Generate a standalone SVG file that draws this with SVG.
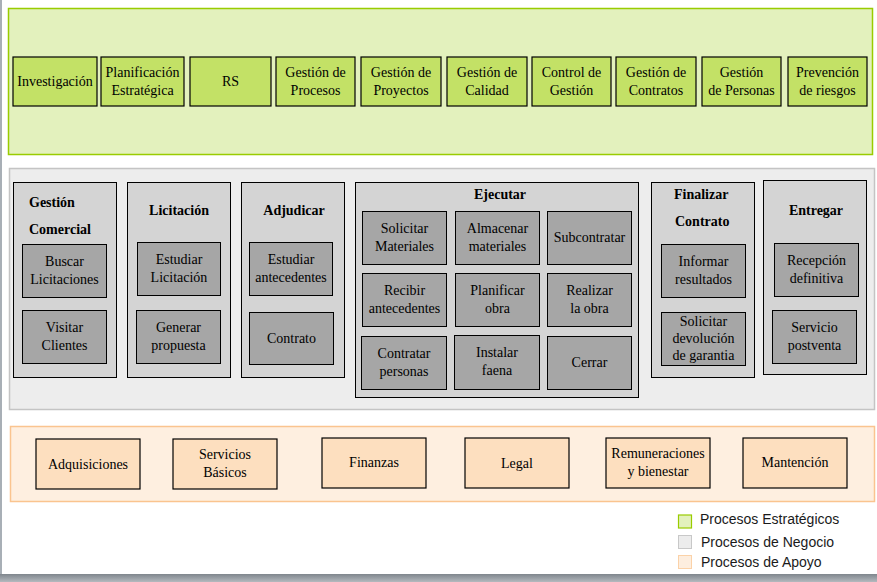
<svg xmlns="http://www.w3.org/2000/svg" width="877" height="582" viewBox="0 0 877 582">
<defs>
<linearGradient id="shadow" x1="0" y1="0" x2="0" y2="1">
<stop offset="0" stop-color="#7f868d"/>
<stop offset="1" stop-color="#b4b9be"/>
</linearGradient>
</defs>
<style>
text{font-family:'Liberation Serif','DejaVu Serif',serif}
.t{font-family:'Liberation Serif','DejaVu Serif',serif;font-size:14px;fill:#000;text-anchor:middle}
.b{font-weight:bold}
.l{text-anchor:start}
.lg{font-family:'Liberation Sans',Arial,sans-serif;font-size:14px;fill:#1a1a1a}
.sp{fill:#e3f1bd;stroke:#99cc00;stroke-width:1.5}
.sb{fill:#c3e166;stroke:#000;stroke-width:1.2}
.np{fill:#ededed;stroke:#c4c4c4;stroke-width:1.5}
.nc{fill:#d4d4d4;stroke:#000;stroke-width:1}
.nb{fill:#a6a6a6;stroke:#000;stroke-width:1}
.ap{fill:#feefe0;stroke:#fac48f;stroke-width:1.5}
.ab{fill:#fddfbf;stroke:#000;stroke-width:1.2}
</style>
<rect x="0" y="0" width="877" height="582" fill="#ffffff"/>
<rect x="0" y="0" width="2" height="576" fill="#a8afb6"/>
<rect x="0" y="574" width="877" height="8" fill="url(#shadow)"/>

<g id="estrategicos" font-family="Liberation Serif">
<rect class="sp" x="8.5" y="8.5" width="864" height="146"/>
<g id="investigacion"><rect class="sb" x="13" y="57" width="84" height="49"/><text class="t" x="55" y="86">Investigación</text></g>
<g id="planificacion"><rect class="sb" x="101" y="57" width="83" height="49"/><text class="t" x="142.5" y="77">Planificación</text><text class="t" x="142.5" y="95">Estratégica</text></g>
<g id="rs"><rect class="sb" x="190" y="57" width="81" height="49"/><text class="t" x="230.5" y="86">RS</text></g>
<g id="gestion-procesos"><rect class="sb" x="276" y="57" width="79" height="49"/><text class="t" x="315.5" y="77">Gestión de</text><text class="t" x="315.5" y="95">Procesos</text></g>
<g id="gestion-proyectos"><rect class="sb" x="361" y="57" width="80" height="49"/><text class="t" x="401" y="77">Gestión de</text><text class="t" x="401" y="95">Proyectos</text></g>
<g id="gestion-calidad"><rect class="sb" x="447" y="57" width="80" height="49"/><text class="t" x="487" y="77">Gestión de</text><text class="t" x="487" y="95">Calidad</text></g>
<g id="control-gestion"><rect class="sb" x="532" y="57" width="79" height="49"/><text class="t" x="571.5" y="77">Control de</text><text class="t" x="571.5" y="95">Gestión</text></g>
<g id="gestion-contratos"><rect class="sb" x="616" y="57" width="80" height="49"/><text class="t" x="656" y="77">Gestión de</text><text class="t" x="656" y="95">Contratos</text></g>
<g id="gestion-personas"><rect class="sb" x="702" y="57" width="79" height="49"/><text class="t" x="741.5" y="77">Gestión</text><text class="t" x="741.5" y="95">de Personas</text></g>
<g id="prevencion-riesgos"><rect class="sb" x="788" y="57" width="79" height="49"/><text class="t" x="827.5" y="77">Prevención</text><text class="t" x="827.5" y="95">de riesgos</text></g>
</g>

<g id="negocio">
<rect class="np" x="9.5" y="168.5" width="865" height="241"/>
<g id="gestion-comercial">
<rect class="nc" x="13.5" y="182.5" width="103" height="195"/>
<text class="t b l" x="29" y="207">Gestión</text><text class="t b l" x="29" y="234">Comercial</text>
<g id="buscar-licitaciones"><rect class="nb" x="22.5" y="244.5" width="84" height="53"/><text class="t" x="64.5" y="266">Buscar</text><text class="t" x="64.5" y="284">Licitaciones</text></g>
<g id="visitar-clientes"><rect class="nb" x="22.5" y="310.5" width="84" height="53"/><text class="t" x="64.5" y="332">Visitar</text><text class="t" x="64.5" y="350">Clientes</text></g>
</g>
<g id="licitacion">
<rect class="nc" x="127.5" y="182.5" width="103" height="195"/>
<text class="t b" x="179" y="215">Licitación</text>
<g id="estudiar-licitacion"><rect class="nb" x="137.5" y="242.5" width="83" height="53"/><text class="t" x="179" y="264">Estudiar</text><text class="t" x="179" y="282">Licitación</text></g>
<g id="generar-propuesta"><rect class="nb" x="136.5" y="310.5" width="84" height="53"/><text class="t" x="178.5" y="332">Generar</text><text class="t" x="178.5" y="350">propuesta</text></g>
</g>
<g id="adjudicar">
<rect class="nc" x="241.5" y="182.5" width="103" height="195"/>
<text class="t b" x="294" y="215">Adjudicar</text>
<g id="estudiar-antecedentes"><rect class="nb" x="249.5" y="242.5" width="83" height="53"/><text class="t" x="291" y="264">Estudiar</text><text class="t" x="291" y="282">antecedentes</text></g>
<g id="contrato"><rect class="nb" x="249.5" y="312.5" width="84" height="52"/><text class="t" x="291.5" y="343">Contrato</text></g>
</g>
<g id="ejecutar">
<rect class="nc" x="355.5" y="182.5" width="283" height="215"/>
<text class="t b" x="500" y="199">Ejecutar</text>
<g id="solicitar-materiales"><rect class="nb" x="362.5" y="211.5" width="84" height="53"/><text class="t" x="404.5" y="233">Solicitar</text><text class="t" x="404.5" y="251">Materiales</text></g>
<g id="almacenar-materiales"><rect class="nb" x="455.5" y="211.5" width="84" height="53"/><text class="t" x="497.5" y="233">Almacenar</text><text class="t" x="497.5" y="251">materiales</text></g>
<g id="subcontratar"><rect class="nb" x="547.5" y="211.5" width="84" height="53"/><text class="t" x="589.5" y="242">Subcontratar</text></g>
<g id="recibir-antecedentes"><rect class="nb" x="362.5" y="273.5" width="84" height="53"/><text class="t" x="404.5" y="295">Recibir</text><text class="t" x="404.5" y="313">antecedentes</text></g>
<g id="planificar-obra"><rect class="nb" x="455.5" y="273.5" width="84" height="53"/><text class="t" x="497.5" y="295">Planificar</text><text class="t" x="497.5" y="313">obra</text></g>
<g id="realizar-obra"><rect class="nb" x="547.5" y="273.5" width="84" height="53"/><text class="t" x="589.5" y="295">Realizar</text><text class="t" x="589.5" y="313">la obra</text></g>
<g id="contratar-personas"><rect class="nb" x="361.5" y="336.5" width="85" height="53"/><text class="t" x="404" y="358">Contratar</text><text class="t" x="404" y="376">personas</text></g>
<g id="instalar-faena"><rect class="nb" x="454.5" y="335.5" width="85" height="54"/><text class="t" x="497" y="357">Instalar</text><text class="t" x="497" y="375">faena</text></g>
<g id="cerrar"><rect class="nb" x="547.5" y="336.5" width="84" height="53"/><text class="t" x="589.5" y="367">Cerrar</text></g>
</g>
<g id="finalizar-contrato">
<rect class="nc" x="651.5" y="182.5" width="103" height="195"/>
<text class="t b l" x="674" y="199">Finalizar</text><text class="t b l" x="675" y="226">Contrato</text>
<g id="informar-resultados"><rect class="nb" x="661.5" y="244.5" width="84" height="53"/><text class="t" x="703.5" y="266">Informar</text><text class="t" x="703.5" y="284">resultados</text></g>
<g id="solicitar-devolucion"><rect class="nb" x="661.5" y="312.5" width="84" height="53"/><text class="t" x="703.5" y="326">Solicitar</text><text class="t" x="703.5" y="343">devolución</text><text class="t" x="703.5" y="360">de garantia</text></g>
</g>
<g id="entregar">
<rect class="nc" x="763.5" y="180.5" width="103" height="194"/>
<text class="t b" x="816" y="215">Entregar</text>
<g id="recepcion-definitiva"><rect class="nb" x="774.5" y="243.5" width="84" height="53"/><text class="t" x="816.5" y="265">Recepción</text><text class="t" x="816.5" y="283">definitiva</text></g>
<g id="servicio-postventa"><rect class="nb" x="772.5" y="310.5" width="84" height="53"/><text class="t" x="814.5" y="332">Servicio</text><text class="t" x="814.5" y="350">postventa</text></g>
</g>
</g>

<g id="apoyo">
<rect class="ap" x="10.5" y="426.5" width="864" height="75"/>
<g id="adquisiciones"><rect class="ab" x="36" y="439" width="104" height="50"/><text class="t" x="88" y="469">Adquisiciones</text></g>
<g id="servicios-basicos"><rect class="ab" x="173" y="439" width="104" height="50"/><text class="t" x="225" y="459">Servicios</text><text class="t" x="225" y="477">Básicos</text></g>
<g id="finanzas"><rect class="ab" x="322" y="438" width="104" height="50"/><text class="t" x="374" y="467">Finanzas</text></g>
<g id="legal"><rect class="ab" x="465" y="438" width="104" height="50"/><text class="t" x="517" y="468">Legal</text></g>
<g id="remuneraciones"><rect class="ab" x="606" y="438" width="104" height="50"/><text class="t" x="658" y="458">Remuneraciones</text><text class="t" x="658" y="476">y bienestar</text></g>
<g id="mantencion"><rect class="ab" x="743" y="438" width="104" height="50"/><text class="t" x="795" y="467">Mantención</text></g>
</g>

<g id="leyenda">
<rect x="678.5" y="515" width="13" height="13" fill="#e3f1bd" stroke="#99cc00" stroke-width="1.2"/>
<text class="lg" x="700" y="524">Procesos Estratégicos</text>
<rect x="678.5" y="535.5" width="13" height="13" fill="#ececec" stroke="#c8c8c8" stroke-width="1"/>
<text class="lg" x="701" y="547">Procesos de Negocio</text>
<rect x="678.5" y="555.5" width="13" height="13" fill="#fdeedf" stroke="#fbd2a8" stroke-width="1"/>
<text class="lg" x="701" y="567">Procesos de Apoyo</text>
</g>

<g id="connectors"/>
</svg>
